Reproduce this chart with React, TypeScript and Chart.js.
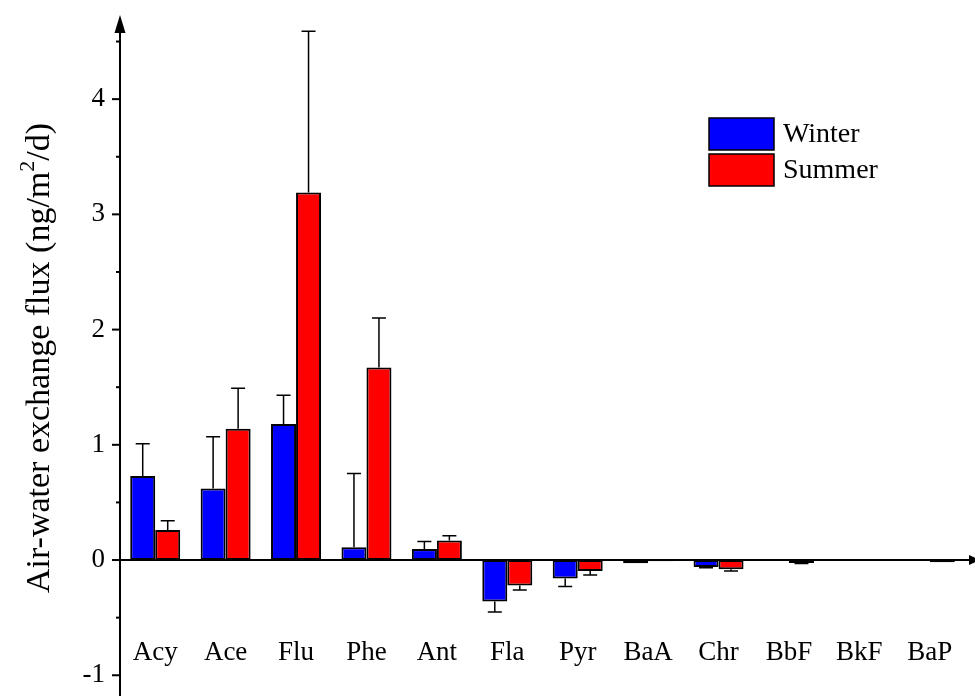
import React, { useEffect, useRef } from "react";
import { Chart, registerables } from "chart.js";

Chart.register(...registerables);

const categories = ["Acy", "Ace", "Flu", "Phe", "Ant", "Fla", "Pyr", "BaA", "Chr", "BbF", "BkF", "BaP"];
const winterValues = [0.73, 0.62, 1.18, 0.11, 0.095, -0.36, -0.16, -0.028, -0.06, -0.005, -0.005, -0.005];
const winterErrors = [0.28, 0.45, 0.25, 0.64, 0.065, 0.09, 0.07, 0, 0.008, 0, 0, 0];
const summerValues = [0.26, 1.14, 3.19, 1.67, 0.17, -0.22, -0.095, -0.01, -0.08, -0.025, -0.005, -0.02];
const summerErrors = [0.08, 0.35, 1.4, 0.43, 0.04, 0.04, 0.035, 0, 0.015, 0.005, 0, 0];
const seriesNames = ["Winter", "Summer"];
const seriesColors = ["#0000FF", "#FF0000"];
const yMin = -1.18;
const yMax = 4.6;
const yTitleMain = "Air-water exchange flux (ng/m";
const yTitleSup = "2";
const yTitleEnd = "/d)";

const FONT = "'Liberation Serif', 'Times New Roman', serif";

const errorPlugin = {
  id: "errorBars",
  afterDatasetsDraw(chart: any) {
    const ctx = chart.ctx;
    const yScale = chart.scales.y;
    const errs = [winterErrors, summerErrors];
    const vals = [winterValues, summerValues];
    ctx.save();
    ctx.strokeStyle = "#000";
    ctx.lineWidth = 1.5;
    for (let d = 0; d < 2; d++) {
      const meta = chart.getDatasetMeta(d);
      meta.data.forEach((el: any, i: number) => {
        const e = errs[d][i];
        if (!e) return;
        const v = vals[d][i];
        const end = v >= 0 ? v + e : v - e;
        const yEnd = yScale.getPixelForValue(end);
        const yStart = yScale.getPixelForValue(v);
        ctx.beginPath();
        ctx.moveTo(el.x, yStart);
        ctx.lineTo(el.x, yEnd);
        ctx.moveTo(el.x - 7, yEnd);
        ctx.lineTo(el.x + 7, yEnd);
        ctx.stroke();
      });
    }
    ctx.restore();
  },
};

const axesPlugin = {
  id: "customAxes",
  beforeDatasetsDraw(chart: any) {
    const ctx = chart.ctx;
    const area = chart.chartArea;
    const yScale = chart.scales.y;
    const y0 = yScale.getPixelForValue(0);
    const ax = area.left;
    ctx.save();
    ctx.strokeStyle = "#000";
    ctx.fillStyle = "#000";
    ctx.lineWidth = 2;
    ctx.beginPath();
    ctx.moveTo(ax, y0);
    ctx.lineTo(chart.width - 4, y0);
    ctx.stroke();
    ctx.beginPath();
    ctx.moveTo(chart.width + 5, y0);
    ctx.lineTo(chart.width - 6, y0 - 5);
    ctx.lineTo(chart.width - 6, y0 + 5);
    ctx.closePath();
    ctx.fill();
    ctx.restore();
  },
  afterDraw(chart: any) {
    const ctx = chart.ctx;
    const area = chart.chartArea;
    const yScale = chart.scales.y;
    const ax = area.left;
    ctx.save();
    ctx.strokeStyle = "#000";
    ctx.fillStyle = "#000";
    ctx.lineWidth = 2;
    ctx.beginPath();
    ctx.moveTo(ax, area.bottom);
    ctx.lineTo(ax, area.top);
    ctx.stroke();
    ctx.beginPath();
    ctx.moveTo(ax, area.top - 15);
    ctx.lineTo(ax - 5.5, area.top + 3);
    ctx.lineTo(ax + 5.5, area.top + 3);
    ctx.closePath();
    ctx.fill();
    for (let v = -1; v <= 4.5; v += 0.5) {
      const py = yScale.getPixelForValue(v);
      const major = Math.abs(v - Math.round(v)) < 1e-9;
      ctx.beginPath();
      ctx.moveTo(ax - (major ? 8 : 4), py);
      ctx.lineTo(ax, py);
      ctx.stroke();
    }
    ctx.fillStyle = "#000";
    const fs = 34;
    const supFs = 22;
    ctx.font = `${fs}px ${FONT}`;
    const w1 = ctx.measureText(yTitleMain).width;
    const w3 = ctx.measureText(yTitleEnd).width;
    ctx.font = `${supFs}px ${FONT}`;
    const w2 = ctx.measureText(yTitleSup).width;
    const total = w1 + w2 + w3;
    ctx.translate(40, 358);
    ctx.rotate(-Math.PI / 2);
    ctx.textBaseline = "middle";
    ctx.textAlign = "left";
    let x = -total / 2;
    ctx.font = `${fs}px ${FONT}`;
    ctx.fillText(yTitleMain, x, 0);
    x += w1;
    ctx.font = `${supFs}px ${FONT}`;
    ctx.fillText(yTitleSup, x, -12);
    x += w2;
    ctx.font = `${fs}px ${FONT}`;
    ctx.fillText(yTitleEnd, x, 0);
    ctx.restore();

    ctx.save();
    ctx.lineWidth = 1.5;
    ctx.strokeStyle = "#000";
    ctx.font = `28px ${FONT}`;
    ctx.textBaseline = "middle";
    ctx.textAlign = "left";
    const lx = 709, ly = 118, bw = 65, bh = 32, gap = 36;
    for (let i = 0; i < seriesNames.length; i++) {
      const by = ly + i * gap;
      ctx.fillStyle = seriesColors[i];
      ctx.fillRect(lx, by, bw, bh);
      ctx.strokeRect(lx, by, bw, bh);
      ctx.fillStyle = "#000";
      ctx.fillText(seriesNames[i], lx + bw + 9, by + bh / 2 + 1);
    }
    ctx.restore();
  },
};

export default function App() {
  const ref = useRef<HTMLCanvasElement | null>(null);
  useEffect(() => {
    if (!ref.current) return;
    const chart = new Chart(ref.current, {
      type: "bar",
      data: {
        labels: categories,
        datasets: [
          {
            label: seriesNames[0],
            data: winterValues,
            backgroundColor: seriesColors[0],
            borderColor: "#000",
            borderWidth: 2,
            borderSkipped: false,
            categoryPercentage: 0.71,
            barPercentage: 1.0,
          },
          {
            label: seriesNames[1],
            data: summerValues,
            backgroundColor: seriesColors[1],
            borderColor: "#000",
            borderWidth: 2,
            borderSkipped: false,
            categoryPercentage: 0.71,
            barPercentage: 1.0,
          },
        ],
      },
      options: {
        responsive: false,
        animation: false,
        layout: { padding: { top: 30, right: 10, bottom: 0, left: 0 } },
        plugins: {
          legend: { display: false },
          tooltip: { enabled: false },
          title: { display: false },
        },
        scales: {
          x: {
            position: { y: 0 } as any,
            grid: { display: false, drawTicks: false },
            border: { display: false },
            ticks: {
              padding: 77,
              color: "#000",
              font: { family: FONT, size: 27 },
              maxRotation: 0,
              autoSkip: false,
            },
            afterFit: (s: any) => {
              s.height = 0;
              s.paddingLeft = 0;
              s.paddingRight = 0;
              s.paddingTop = 0;
              s.paddingBottom = 0;
            },
          },
          y: {
            min: yMin,
            max: yMax,
            grid: { display: false, drawTicks: false },
            border: { display: false },
            ticks: {
              stepSize: 1,
              includeBounds: false,
              padding: 15,
              autoSkip: false,
              color: "#000",
              font: { family: FONT, size: 27 },
              callback: (v: any) => {
                const n = Number(v);
                return Math.abs(n - Math.round(n)) < 1e-9 ? String(Math.round(n)) : "";
              },
            },
            afterFit: (s: any) => {
              s.width = 120;
              s.paddingTop = 0;
              s.paddingBottom = 0;
            },
          },
        },
      },
      plugins: [axesPlugin, errorPlugin],
    });
    return () => chart.destroy();
  }, []);
  return (
    <div style={{ position: "absolute", left: 0, top: 0, width: 975, height: 696, background: "#fff" }}>
      <canvas ref={ref} width={975} height={696} style={{ display: "block" }} />
    </div>
  );
}
